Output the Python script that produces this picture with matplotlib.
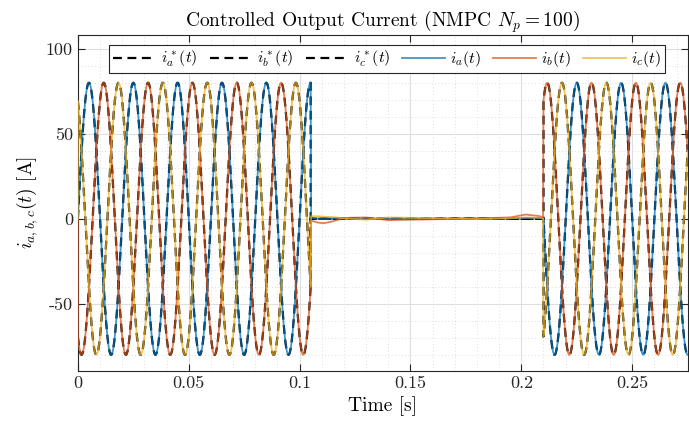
import numpy as np
import matplotlib
matplotlib.use("Agg")
import matplotlib.pyplot as plt
from matplotlib.ticker import MultipleLocator

plt.rcParams['font.family'] = 'serif'
plt.rcParams['font.serif'] = ['cmr10']
plt.rcParams['mathtext.fontset'] = 'cm'
plt.rcParams['axes.formatter.use_mathtext'] = True

# simulation parameters
amplitude = 80.0          # A
freq = 50.0               # Hz
phase_shift = [0.0, -2 * np.pi / 3, 2 * np.pi / 3]
t_off = 0.105             # reference set to zero
t_on = 0.21               # reference back on
t_end = 0.275

# small residual ripple of the measured currents while the reference is zero
mid_t = [0.1052, 0.108, 0.111, 0.115, 0.12, 0.13, 0.14, 0.16, 0.18, 0.195, 0.202, 0.2085, 0.2098]
ia_mid = [0.5, 0.2, -0.3, 0.3, 0.2, -0.2, -0.1, 0.0, 0.0, 0.2, 0.4, 0.2, 0.0]
ib_mid = [-1.0, -2.2, -2.6, -1.5, 0.5, 0.8, -0.8, -0.3, 0.2, 0.8, 2.5, 1.5, 0.5]
ic_mid = [1.5, 1.5, 1.2, 1.0, 0.2, -0.5, 0.8, 0.3, -0.2, 0.3, 0.8, 0.6, 0.2]
mid_actual = [ia_mid, ib_mid, ic_mid]

colors = ['#0072BD', '#D95319', '#EDB120']
ref_labels = [r'$i_a^*(t)$', r'$i_b^*(t)$', r'$i_c^*(t)$']
act_labels = [r'$i_a(t)$', r'$i_b(t)$', r'$i_c(t)$']

t1 = np.linspace(0, t_off, 800)
t3 = np.linspace(t_on, t_end, 600)

fig = plt.figure(figsize=(6.89, 4.23), dpi=100)
ax = fig.add_axes([0.113, 0.123, 0.885, 0.794])

ref_handles = []
act_handles = []
for k in range(3):
    w = 2 * np.pi * freq
    r1 = amplitude * np.sin(w * t1 + phase_shift[k])
    r3 = amplitude * np.sin(w * t3 + phase_shift[k])
    t_ref = np.concatenate([t1, [t_off, t_on], t3])
    i_ref = np.concatenate([r1, [0.0, 0.0], r3])
    h, = ax.plot(t_ref, i_ref, '--', color='black', lw=1.6, dashes=(4, 2.5), label=ref_labels[k], zorder=2)
    ref_handles.append(h)

for k in range(3):
    w = 2 * np.pi * freq
    r1 = amplitude * np.sin(w * t1 + phase_shift[k])
    r3 = amplitude * np.sin(w * t3 + phase_shift[k])
    t_act = np.concatenate([[0.0], t1, mid_t, t3])
    i_act = np.concatenate([[0.0], r1, mid_actual[k], r3])
    h, = ax.plot(t_act, i_act, '-', color=colors[k], lw=1.3, alpha=0.75, label=act_labels[k], zorder=3)
    act_handles.append(h)

ax.set_xlim(0, t_end)
ax.set_ylim(-89.5, 108)
ax.xaxis.set_minor_locator(MultipleLocator(0.01))
ax.yaxis.set_minor_locator(MultipleLocator(10))
ax.set_xticks([0, 0.05, 0.1, 0.15, 0.2, 0.25])
ax.set_xticklabels(['0', '0.05', '0.1', '0.15', '0.2', '0.25'])
ax.set_yticks([-50, 0, 50, 100])
ax.set_yticklabels(['-50', '0', '50', '100'])

ax.grid(which='major', color='#dedede', lw=0.8, ls='-')
ax.grid(which='minor', color='#d2d2d2', lw=0.6, ls=(0, (1, 3)))
ax.set_axisbelow(True)
ax.tick_params(which='both', direction='in', top=True, right=True, labelsize=13, colors='#262626')
ax.tick_params(which='major', length=5)
ax.tick_params(which='minor', length=0)
for s in ax.spines.values():
    s.set_color('#262626')
    s.set_linewidth(0.8)

ax.set_xlabel('Time [s]', fontsize=14)
ax.set_ylabel(r'$i_{a,b,c}(t)$ [A]', fontsize=14)
ax.set_title(r'Controlled Output Current (NMPC $N_p=100$)', fontsize=14)

leg = ax.legend(handles=ref_handles + act_handles, loc='upper center', ncol=6, fontsize=11.5,
                bbox_to_anchor=(0.507, 0.97), handlelength=2.7, handletextpad=0.3, columnspacing=0.75,
                fancybox=False, edgecolor='#262626', framealpha=1.0, borderpad=0.25, borderaxespad=0)
leg.get_frame().set_linewidth(0.8)

fig.savefig('out.png', dpi=100)
